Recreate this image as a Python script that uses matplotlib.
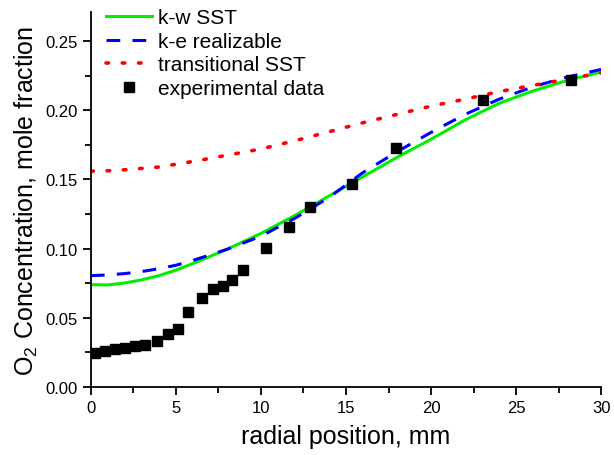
import numpy as np
import matplotlib
matplotlib.use("Agg")
import matplotlib.pyplot as plt
from matplotlib.ticker import MultipleLocator

plt.rcParams['font.family'] = ['Liberation Sans', 'DejaVu Sans']

# experimental data
x_exp = [0.24, 0.82, 1.41, 2.0, 2.59, 3.18, 3.88, 4.53, 5.12, 5.71, 6.53, 7.18,
         7.76, 8.29, 8.94, 10.29, 11.65, 12.88, 15.35, 17.94, 23.06, 28.24]
y_exp = [0.0246, 0.026, 0.0275, 0.0282, 0.0296, 0.0303, 0.0332, 0.0383, 0.0419,
         0.054, 0.064, 0.071, 0.073, 0.077, 0.0845, 0.1004, 0.1156, 0.130,
         0.1467, 0.1727, 0.2074, 0.2218]

# model curves
x_cfd = [0, 1, 2, 3, 4, 5, 6, 8, 10, 12, 14, 16, 18, 20, 22, 24, 26, 28, 30]
y_kw = [0.074, 0.0738, 0.0752, 0.0775, 0.0805, 0.0845, 0.0893, 0.0995, 0.111,
        0.124, 0.138, 0.152, 0.166, 0.179, 0.193, 0.205, 0.214, 0.2215, 0.2276]
y_ke = [0.0805, 0.081, 0.082, 0.0835, 0.0855, 0.088, 0.0915, 0.0995, 0.109,
        0.122, 0.137, 0.155, 0.170, 0.184, 0.197, 0.208, 0.217, 0.224, 0.2295]
y_trans = [0.156, 0.1563, 0.157, 0.158, 0.159, 0.161, 0.163, 0.1675, 0.172,
           0.178, 0.1845, 0.191, 0.197, 0.203, 0.208, 0.2135, 0.218, 0.2225, 0.227]

fig = plt.figure(figsize=(6.14, 4.56), dpi=100)
ax = fig.add_axes([0.148, 0.149, 0.831, 0.8225])

ax.plot(x_cfd, y_kw, color='#00ee00', lw=2.2, label='k-w SST')
ax.plot(x_cfd, y_ke, color='#0000ff', lw=2.2, ls=(0, (4.5, 4)), label='k-e realizable')
ax.plot(x_cfd, y_trans, color='#ff0000', lw=2.6, ls=(0, (0.7, 3.8)),
        dash_capstyle='round', label='transitional SST')
ax.plot(x_exp, y_exp, 's', color='black', ms=6.5, label='experimental data')

ax.set_xlim(0, 30)
ax.set_ylim(0, 0.271)
ax.xaxis.set_major_locator(MultipleLocator(5))
ax.xaxis.set_minor_locator(MultipleLocator(2.5))
ax.yaxis.set_major_locator(MultipleLocator(0.05))
ax.yaxis.set_minor_locator(MultipleLocator(0.025))
ax.yaxis.set_major_formatter(plt.FormatStrFormatter('%.2f'))

for s in ['top', 'right']:
    ax.spines[s].set_visible(False)
for s in ['left', 'bottom']:
    ax.spines[s].set_linewidth(1.3)
ax.tick_params(which='major', direction='out', length=6, width=1.3, labelsize=12)
ax.tick_params(which='minor', direction='out', length=4, width=1.3)

ax.set_xlabel('radial position, mm', fontsize=18, labelpad=6)
ax.set_ylabel(r'O$_\mathregular{2}$ Concentration, mole fraction', fontsize=18, labelpad=4)

ax.legend(loc='upper left', bbox_to_anchor=(0.03, 1.01), frameon=False,
          fontsize=15, handlelength=2.2, handletextpad=0.3, labelspacing=0.22,
          borderpad=0, borderaxespad=0)

fig.savefig('out.png', dpi=100)
